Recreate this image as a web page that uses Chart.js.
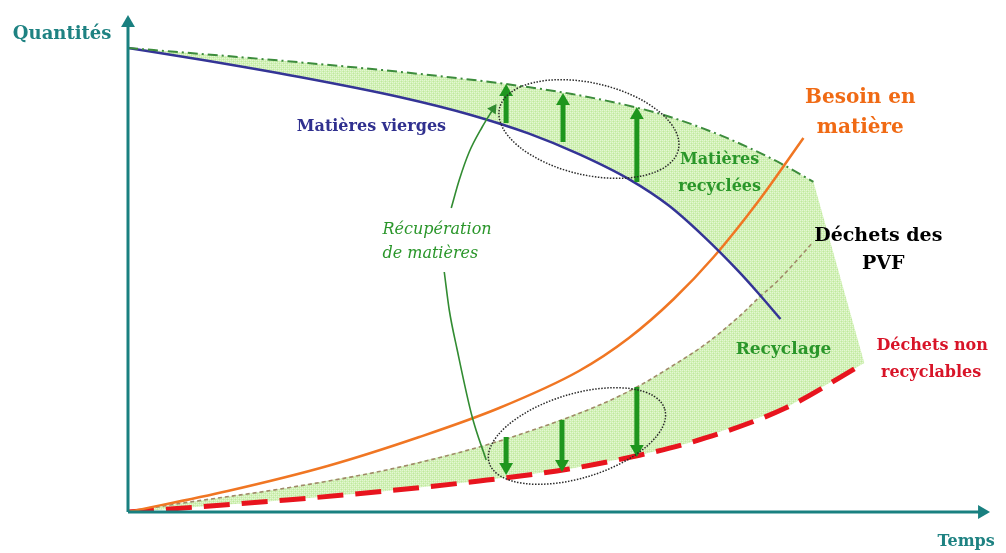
<!DOCTYPE html>
<html>
<head>
<meta charset="utf-8">
<script src="https://cdn.jsdelivr.net/npm/chart.js@4.4.1/dist/chart.umd.min.js"></script>
<style>
  html, body { margin: 0; padding: 0; background: #ffffff; }
  #wrap { width: 1006px; height: 553px; position: relative; }
</style>
</head>
<body>
<div id="wrap"><canvas id="c" width="1006" height="553"></canvas></div>
<script>
// ---- Data (time on x, quantity on y; axes have no ticks) ----
const viergesX   = [0, 72, 172, 272, 342, 402, 452, 502, 542, 577, 612, 632, 654];
const viergesY   = [464, 452.5, 435, 415, 397.5, 378.3, 357.8, 332.8, 306.4, 275.6, 240.6, 218.5, 193];

const recycleesX = [0, 72, 172, 272, 379, 445, 512, 552, 602, 652, 687];
const recycleesY = [464, 458.2, 449.7, 440.2, 427.9, 418, 403.9, 392.3, 373.3, 349.8, 330.2];

const besoinX    = [0, 100, 200, 292, 372, 452, 502, 547, 587, 632, 677];
const besoinY    = [0, 21, 46, 75, 104, 141, 174, 213, 255, 311, 374];

const pvfX       = [0, 42, 159, 259, 352, 409, 475, 512, 539, 579, 612, 632, 652, 685];
const pvfY       = [0, 7, 24, 42, 65, 83, 108, 126, 142, 168, 195, 214, 232, 268];

const nonRecX    = [0, 42, 159, 259, 352, 442, 509, 562, 659, 738];
const nonRecY    = [0, 3, 12, 21, 31, 43, 56, 69, 104, 149];

// recovery arrows (upper: from virgin curve up to recycled curve; lower: from PVF waste down to non-recyclable)
const upArrowX    = [379, 436, 510];
const upArrowFrom = [389, 370, 330];
const upArrowTo   = [428, 419, 405];
const downArrowX    = [379, 435, 510];
const downArrowFrom = [75, 92, 125];
const downArrowTo   = [37, 40, 55];

// "Récupération de matières" connector curves
const recupUpX  = [324, 332, 342, 355, 366];
const recupUpY  = [304, 332, 360, 385, 403];
const recupLowX = [317, 322, 330, 345, 359];
const recupLowY = [240, 202, 162, 95, 52];

const X_MAX = 872, Y_MAX = 497;
const CROSS_X = 632; // where virgin curve meets PVF waste curve

// ---- Annotation config (text, ellipses) ----
const SERIF = '"DejaVu Serif", "Liberation Serif", serif';
const texts = [
  { t: 'Quantités', x: -66, y: 478, c: '#1e8282', f: 'bold 18px ' + SERIF, a: 'center' },
  { t: 'Temps', x: 840, y: -30, c: '#1e8282', f: 'bold 16px ' + SERIF, a: 'center' },
  { t: 'Matières vierges', x: 244, y: 385, c: '#30308f', f: 'bold 16px ' + SERIF, a: 'center' },
  { t: 'Besoin en', x: 734, y: 414, c: '#f06a14', f: 'bold 20px ' + SERIF, a: 'center' },
  { t: 'matière', x: 734, y: 384, c: '#f06a14', f: 'bold 20px ' + SERIF, a: 'center' },
  { t: 'Matières', x: 593, y: 352, c: '#2a962a', f: 'bold 16px ' + SERIF, a: 'center' },
  { t: 'recyclées', x: 593, y: 325, c: '#2a962a', f: 'bold 16px ' + SERIF, a: 'center' },
  { t: 'Déchets des', x: 752, y: 276, c: '#000000', f: 'bold 19px ' + SERIF, a: 'center' },
  { t: 'PVF', x: 757, y: 248, c: '#000000', f: 'bold 19px ' + SERIF, a: 'center' },
  { t: 'Recyclage', x: 657, y: 162, c: '#2a962a', f: 'bold 17px ' + SERIF, a: 'center' },
  { t: 'Déchets non', x: 806, y: 166, c: '#d81428', f: 'bold 16px ' + SERIF, a: 'center' },
  { t: 'recyclables', x: 805, y: 139, c: '#d81428', f: 'bold 16px ' + SERIF, a: 'center' },
  { t: 'Récupération', x: 255, y: 282, c: '#2a962a', f: 'italic 16px ' + SERIF, a: 'left' },
  { t: 'de matières', x: 255, y: 258, c: '#2a962a', f: 'italic 16px ' + SERIF, a: 'left' }
];
const ellipses = [
  { cx: 462, cy: 383, rx: 92, ry: 46, rot: 13 },
  { cx: 450, cy: 76, rx: 92, ry: 42, rot: -17 }
];

// ---- helpers ----
const pts = (xs, ys) => xs.map((x, i) => ({ x: x, y: ys[i] }));
function hatch() {
  const c = document.createElement('canvas');
  c.width = 4; c.height = 4;
  const g = c.getContext('2d');
  g.fillStyle = 'rgb(208,240,180)';
  g.fillRect(0, 0, 4, 4);
  g.fillStyle = 'rgb(228,247,212)';
  g.fillRect(0, 0, 1, 1); g.fillRect(2, 2, 1, 1);
  g.fillRect(2, 0, 1, 1); g.fillRect(0, 2, 1, 1);
  g.fillStyle = 'rgb(190,232,158)';
  g.fillRect(1, 1, 1, 1); g.fillRect(3, 3, 1, 1);
  return g.createPattern(c, 'repeat');
}

const upper = pts(recycleesX, recycleesY);
const red = pts(nonRecX, nonRecY);
const greenShape = upper.concat(red.slice().reverse());
const blue = pts(viergesX, viergesY);
const pvf = pts(pvfX, pvfY);
const lens = blue.filter(p => p.x <= CROSS_X).concat(pvf.filter(p => p.x <= CROSS_X).reverse());

const GREEN = 'rgb(30,150,30)';
const HEAD = 8;
const datasets = [];

datasets.push({ data: greenShape, fill: 'shape', backgroundColor: hatch(), borderWidth: 0, tension: 0, pointRadius: 0, order: 20 });
datasets.push({ data: lens, fill: 'shape', backgroundColor: '#ffffff', borderWidth: 0, tension: 0, pointRadius: 0, order: 19 });

const curve = (data, color, width, dash, order) => ({
  data: data, borderColor: color, borderWidth: width, borderDash: dash || [],
  fill: false, pointRadius: 0, cubicInterpolationMode: 'monotone', order: order, borderCapStyle: 'butt'
});
datasets.push(curve(pvf, 'rgb(160,138,105)', 1.6, [4, 3], 12));
datasets.push(curve(red, 'rgb(232,20,30)', 5, [26, 12], 11));
datasets.push(curve(pts(besoinX, besoinY), 'rgb(240,118,35)', 2.5, [], 10));
datasets.push(curve(blue, 'rgb(52,52,150)', 2.5, [], 9));
datasets.push(curve(upper, 'rgb(60,140,60)', 2, [10, 4, 2, 4], 8));

// vertical recovery arrows
function arrow(x, from, to) {
  const dir = to > from ? 1 : -1;
  return {
    data: [{ x: x, y: from }, { x: x, y: to - dir * HEAD }],
    borderColor: GREEN, backgroundColor: GREEN, borderWidth: 5, fill: false,
    pointRadius: [0, HEAD], pointStyle: 'triangle', pointRotation: dir > 0 ? 0 : 180,
    pointBorderWidth: 0, pointBackgroundColor: GREEN, order: 3, tension: 0
  };
}
upArrowX.forEach((x, i) => datasets.push(arrow(x, upArrowFrom[i], upArrowTo[i])));
downArrowX.forEach((x, i) => datasets.push(arrow(x, downArrowFrom[i], downArrowTo[i])));

// connector curves
const upConn = pts(recupUpX, recupUpY);
datasets.push({
  data: upConn, borderColor: 'rgb(50,140,50)', borderWidth: 1.6, fill: false,
  cubicInterpolationMode: 'monotone', order: 4,
  pointRadius: upConn.map((p, i) => i === upConn.length - 1 ? 6 : 0),
  pointStyle: 'triangle', pointRotation: 34, pointBorderWidth: 0, pointBackgroundColor: 'rgb(50,140,50)'
});
datasets.push({
  data: pts(recupLowX, recupLowY), borderColor: 'rgb(50,140,50)', borderWidth: 1.6, fill: false,
  cubicInterpolationMode: 'monotone', pointRadius: 0, order: 4
});

// axes with arrowheads
const TEAL = 'rgb(25,128,128)';
datasets.push({
  data: [{ x: 0, y: 0 }, { x: 0, y: Y_MAX - HEAD }], borderColor: TEAL, backgroundColor: TEAL, borderWidth: 3,
  pointRadius: [0, HEAD], pointStyle: 'triangle', pointRotation: 0, pointBorderWidth: 0, pointBackgroundColor: TEAL,
  fill: false, order: 1, clip: false, tension: 0
});
datasets.push({
  data: [{ x: 0, y: 0 }, { x: 864 - HEAD, y: 0 }], borderColor: TEAL, backgroundColor: TEAL, borderWidth: 3,
  pointRadius: [0, HEAD], pointStyle: 'triangle', pointRotation: 90, pointBorderWidth: 0, pointBackgroundColor: TEAL,
  fill: false, order: 1, clip: false, tension: 0
});

const annotPlugin = {
  id: 'annot',
  afterDatasetsDraw(chart) {
    const ctx = chart.ctx, xs = chart.scales.x, ys = chart.scales.y;
    ctx.save();
    ellipses.forEach(e => {
      const cx = xs.getPixelForValue(e.cx), cy = ys.getPixelForValue(e.cy);
      const rx = Math.abs(xs.getPixelForValue(e.cx + e.rx) - cx);
      const ry = Math.abs(ys.getPixelForValue(e.cy + e.ry) - cy);
      ctx.beginPath();
      ctx.setLineDash([1.5, 1.5]);
      ctx.lineWidth = 1.5;
      ctx.strokeStyle = '#2a2a2a';
      ctx.ellipse(cx, cy, rx, ry, e.rot * Math.PI / 180, 0, Math.PI * 2);
      ctx.stroke();
    });
    ctx.setLineDash([]);
    texts.forEach(t => {
      ctx.font = t.f;
      ctx.fillStyle = t.c;
      ctx.textAlign = t.a;
      ctx.textBaseline = 'middle';
      ctx.fillText(t.t, xs.getPixelForValue(t.x), ys.getPixelForValue(t.y));
    });
    ctx.restore();
  }
};

new Chart(document.getElementById('c'), {
  type: 'line',
  data: { datasets: datasets },
  plugins: [annotPlugin],
  options: {
    responsive: false,
    animation: false,
    devicePixelRatio: 1,
    layout: { padding: { left: 128, right: 6, top: 15, bottom: 41 } },
    plugins: { legend: { display: false }, tooltip: { enabled: false } },
    elements: { point: { radius: 0, hoverRadius: 0 } },
    scales: {
      x: { type: 'linear', min: 0, max: X_MAX, display: false },
      y: { type: 'linear', min: 0, max: Y_MAX, display: false }
    }
  }
});
</script>
</body>
</html>
